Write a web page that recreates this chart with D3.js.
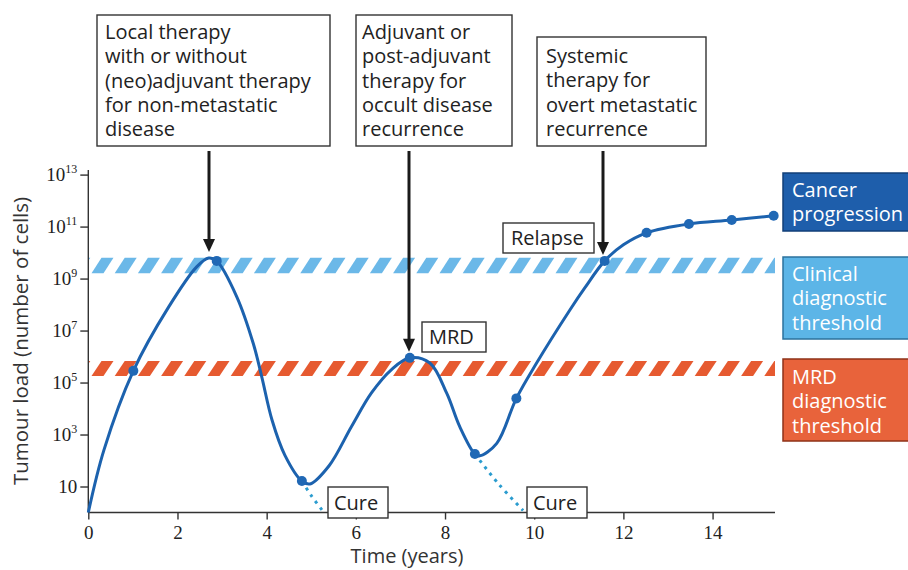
<!DOCTYPE html>
<html>
<head>
<meta charset="utf-8">
<script src="https://cdn.jsdelivr.net/npm/d3@7"></script>
<style>
  body { margin: 0; background: #fff; }
  svg { display: block; }
  .sans { font-family: "Open Sans", Lato, sans-serif; }
  .serif { font-family: "Liberation Serif", "DejaVu Serif", serif; }
</style>
</head>
<body>
<div id="chart"></div>
<script>
///
/// Data (tumour load stored as log10 of cell count)
///
var curveTime = [0, 0.35, 1.01, 1.8, 2.43, 2.7, 2.88, 3.33, 3.7, 3.89, 4.12, 4.41, 4.79, 4.97,
                 5.4, 5.9, 6.35, 6.8, 7.21, 7.66, 8.04, 8.33, 8.67, 8.78, 9.16, 9.6, 10.05, 10.8, 11.13, 11.58,
                 12.0, 12.52, 13.47, 14.43, 15.37];
var curveLog  = [0, 2.4, 5.45, 7.9, 9.45, 9.79, 9.68, 8.3, 6.5, 5.22, 3.56, 2.2, 1.21, 1.1,
                 1.8, 3.3, 4.6, 5.5, 5.95, 5.75, 4.58, 3.3, 2.25, 2.18, 2.66, 4.39, 5.74, 7.79, 8.63, 9.68,
                 10.3, 10.76, 11.1, 11.25, 11.42];

var dotTime = [1.01, 2.88, 4.79, 7.21, 8.67, 9.6, 11.58, 12.52, 13.47, 14.43, 15.37];
var dotLog  = [5.45, 9.68, 1.21, 5.95, 2.25, 4.39, 9.68, 10.76, 11.1, 11.25, 11.42];

// dotted "cure" branches
var cure1Time = [4.79, 5.0, 5.25];
var cure1Log  = [1.21, 0.65, 0.08];
var cure2Time = [8.67, 9.2, 9.75];
var cure2Log  = [2.25, 1.1, 0.08];

// threshold bands [low, high] in log10 cells
var clinicalBand = [9.2, 9.8];
var mrdBand = [5.25, 5.83];

var xTicks = [0, 2, 4, 6, 8, 10, 12, 14];
var yTickExp = [1, 3, 5, 7, 9, 11, 13];

var therapyBoxes = [
  { lines: ["Local therapy", "with or without", "(neo)adjuvant therapy", "for non-metastatic", "disease"], time: 2.7, log: 9.79 },
  { lines: ["Adjuvant or", "post-adjuvant", "therapy for", "occult disease", "recurrence"], time: 7.21, log: 5.95 },
  { lines: ["Systemic", "therapy for", "overt metastatic", "recurrence"], time: 11.58, log: 9.68 }
];
var legendItems = [
  { lines: ["Cancer", "progression"], fill: "#1e5eab", stroke: "#123f78" },
  { lines: ["Clinical", "diagnostic", "threshold"], fill: "#5cb5e7", stroke: "#2b729d" },
  { lines: ["MRD", "diagnostic", "threshold"], fill: "#e8633b", stroke: "#8f3219" }
];

///
/// Setup
///
var W = 908, H = 570;
var svg = d3.select("#chart").append("svg").attr("width", W).attr("height", H);

var x = d3.scaleLinear().domain([0, 15.4]).range([88.3, 775]);
var y = d3.scaleLog().domain([1, Math.pow(10, 13.1)]).range([512.5, 172]);
var yl = v => y(Math.pow(10, v));

///
/// Hatched bands
///
svg.append("clipPath").attr("id", "bandclip")
  .append("rect").attr("x", x(0)).attr("y", 0).attr("width", x(15.4) - x(0)).attr("height", H);

function drawBand(band, color) {
  var top = yl(band[1]), bot = yl(band[0]);
  var slant = 10, w = 12, period = 23.2;
  var g = svg.append("g").attr("clip-path", "url(#bandclip)");
  g.selectAll("path").data(d3.range(x(0) - 20, x(15.4) + 20, period)).join("path")
    .attr("d", s => "M" + s + "," + bot + "L" + (s + w) + "," + bot + "L" + (s + w + slant) + "," + top + "L" + (s + slant) + "," + top + "Z")
    .attr("fill", color);
}
drawBand(clinicalBand, "#6bb8e8");
drawBand(mrdBand, "#e65a30");

///
/// Axes
///
var xAxis = svg.append("g").attr("transform", "translate(0," + y(1) + ")")
  .call(d3.axisBottom(x).tickValues(xTicks).tickSize(7).tickSizeOuter(0).tickPadding(6));
xAxis.select(".domain").attr("d", "M" + x(0) + ",0H" + x(15.4));
xAxis.selectAll(".tick text").attr("class", "serif").attr("font-size", 19).attr("fill", "#222");

var yAxis = svg.append("g").attr("transform", "translate(" + x(0) + ",0)")
  .call(d3.axisLeft(y).tickValues(yTickExp.map(e => Math.pow(10, e))).tickSize(8).tickSizeOuter(0).tickPadding(3).tickFormat(""));
yAxis.select(".domain").attr("d", "M0," + y(1) + "V" + 170);
yAxis.selectAll(".tick text").each(function(d, i) {
  var t = d3.select(this).attr("class", "serif").attr("font-size", 19).attr("fill", "#222");
  var e = yTickExp[i];
  t.append("tspan").text("10");
  if (e > 1) t.append("tspan").attr("font-size", 12).attr("dy", -8).text(e);
});
svg.selectAll(".domain, .tick line").attr("stroke", "#333").attr("stroke-width", 1.4);

svg.append("text").attr("class", "sans").attr("font-size", 20.5).attr("fill", "#333")
  .attr("text-anchor", "middle").attr("transform", "translate(28,341) rotate(-90)")
  .text("Tumour load (number of cells)");
svg.append("text").attr("class", "sans").attr("font-size", 20).attr("fill", "#333")
  .attr("text-anchor", "middle").attr("x", 407).attr("y", 563).text("Time (years)");

///
/// Curve
///
var line = d3.line().x(d => x(d[0])).y(d => yl(d[1])).curve(d3.curveCatmullRom.alpha(0.5));

[[cure1Time, cure1Log], [cure2Time, cure2Log]].forEach(function(c) {
  svg.append("path").datum(d3.zip(c[0], c[1])).attr("d", line)
    .attr("fill", "none").attr("stroke", "#2b9ccf").attr("stroke-width", 3).attr("stroke-dasharray", "3,5");
});

svg.append("path").datum(d3.zip(curveTime, curveLog)).attr("d", line)
  .attr("fill", "none").attr("stroke", "#1c62ae").attr("stroke-width", 3);

svg.selectAll("circle.dot").data(d3.zip(dotTime, dotLog)).join("circle").attr("class", "dot")
  .attr("cx", d => x(d[0])).attr("cy", d => yl(d[1])).attr("r", 5).attr("fill", "#2068b5");

///
/// Labels in boxes
///
function labelBox(txt, bx, by, bw, bh, tx, ty) {
  svg.append("rect").attr("x", bx).attr("y", by).attr("width", bw).attr("height", bh)
    .attr("fill", "#fff").attr("stroke", "#333").attr("stroke-width", 1.4);
  svg.append("text").attr("class", "sans").attr("font-size", 20).attr("fill", "#222")
    .attr("x", tx).attr("y", ty).text(txt);
}
labelBox("Relapse", 503, 223, 91, 30, 511, 245);
labelBox("MRD", 422, 322, 64, 30, 429, 344);
labelBox("Cure", 328, 487, 60, 31, 334, 510);
labelBox("Cure", 527, 487, 60, 31, 533, 510);

///
/// Therapy boxes + arrows
///
var boxGeom = [[97, 15, 233, 131, 105, 39], [356, 15, 156, 131, 362, 39], [537, 37, 169, 109, 546, 63]];
var arrowX = [209, 409, 603];
therapyBoxes.forEach(function(b, i) {
  var g = boxGeom[i];
  svg.append("rect").attr("x", g[0]).attr("y", g[1]).attr("width", g[2]).attr("height", g[3])
    .attr("fill", "#fff").attr("stroke", "#333").attr("stroke-width", 1.4);
  var t = svg.append("text").attr("class", "sans").attr("font-size", 20).attr("fill", "#222");
  b.lines.forEach(function(l, j) {
    t.append("tspan").attr("x", g[4]).attr("y", g[5] + j * 24.3).text(l);
  });
  var tip = yl(b.log) - 6;
  svg.append("line").attr("x1", arrowX[i]).attr("x2", arrowX[i]).attr("y1", 151).attr("y2", tip - 10)
    .attr("stroke", "#1a1a1a").attr("stroke-width", 3);
  svg.append("path").attr("d", "M" + (arrowX[i] - 6) + "," + (tip - 13) + "L" + (arrowX[i] + 6) + "," + (tip - 13) + "L" + arrowX[i] + "," + tip + "Z")
    .attr("fill", "#1a1a1a");
});

///
/// Legend boxes on the right
///
var legendGeom = [[173, 58, 197], [257, 82, 281], [359, 82, 384]];
legendItems.forEach(function(d, i) {
  var g = legendGeom[i];
  svg.append("rect").attr("x", 783).attr("y", g[0]).attr("width", 140).attr("height", g[1])
    .attr("fill", d.fill).attr("stroke", d.stroke).attr("stroke-width", 1.5);
  var t = svg.append("text").attr("class", "sans").attr("font-size", 20).attr("fill", "#fff");
  d.lines.forEach(function(l, j) {
    t.append("tspan").attr("x", 792).attr("y", g[2] + j * 24.3).text(l);
  });
});
</script>
</body>
</html>
